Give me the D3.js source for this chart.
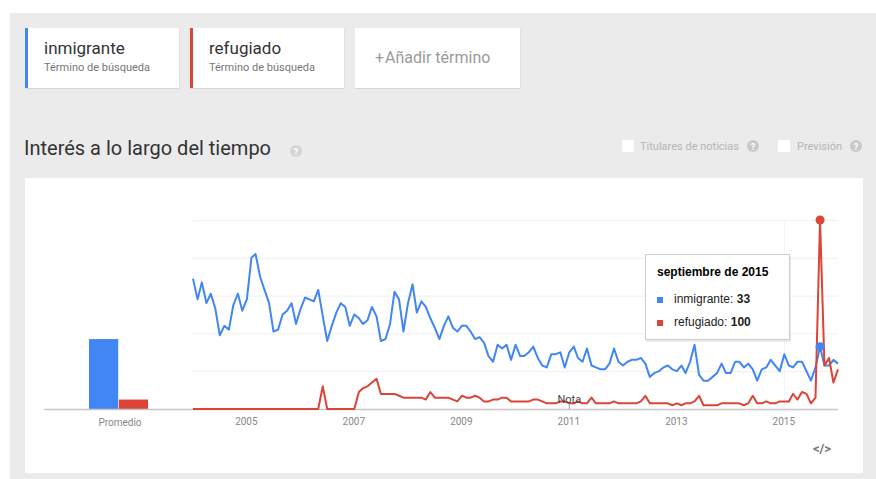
<!DOCTYPE html>
<html>
<head>
<meta charset="utf-8">
<script src="https://cdn.jsdelivr.net/npm/d3@7"></script>
<style>
  body { margin: 0; background: #fff; }
  svg { display: block; font-family: Roboto, "Open Sans", Arial, sans-serif; }
</style>
</head>
<body>
<svg id="chart" width="876" height="479"></svg>
<script>
// Search terms and their colours
const terms = ["inmigrante", "refugiado"];
const termColors = ["#4285f4", "#db4437"];
const termSubtitle = "Término de búsqueda";

// Monthly interest, Jan 2004 .. Jan 2016 (0-100)
const inmigrante = [
  69, 58, 67, 56, 61, 53, 39, 44, 42, 55, 61, 52,
  58, 80, 82, 70, 63, 56, 41, 42, 50, 52, 56, 45,
  53, 59, 58, 57, 63, 49, 36, 44, 51, 56, 54, 44,
  50, 48, 45, 47, 54, 49, 36, 37, 45, 62, 58, 41,
  56, 66, 51, 57, 54, 48, 43, 37, 44, 49, 43, 41,
  44, 44, 41, 37, 38, 35, 28, 25, 34, 32, 34, 26,
  34, 28, 28, 30, 33, 27, 23, 22, 29, 29, 30, 22,
  30, 33, 27, 25, 32, 23, 22, 21, 21, 24, 32, 25,
  23, 25, 26, 26, 27, 24, 17, 19, 20, 22, 23, 21,
  20, 23, 19, 25, 34, 18, 15, 15, 17, 19, 24, 19,
  19, 25, 25, 22, 24, 21, 15, 21, 22, 26, 23, 20,
  29, 23, 22, 25, 25, 20, 15, 22, 33, 23, 23, 26,
  24
];
const refugiado = [
  0, 0, 0, 0, 0, 0, 0, 0, 0, 0, 0, 0,
  0, 0, 0, 0, 0, 0, 0, 0, 0, 0, 0, 0,
  0, 0, 0, 0, 0, 12, 0, 0, 0, 0, 0, 0,
  0, 9, 11, 12, 14, 16, 8, 8, 8, 8, 7, 6,
  6, 6, 6, 6, 5, 9, 6, 6, 6, 6, 5, 4,
  7, 6, 6, 7, 6, 4, 4, 5, 5, 6, 6, 4,
  4, 4, 4, 4, 5, 5, 4, 3, 3, 3, 4, 4,
  3, 3, 4, 3, 3, 6, 3, 3, 3, 3, 4, 3,
  3, 3, 3, 3, 4, 7, 3, 3, 3, 3, 3, 2,
  3, 2, 3, 3, 4, 7, 2, 2, 2, 2, 3, 3,
  3, 3, 3, 2, 3, 7, 3, 3, 4, 3, 3, 4,
  4, 4, 8, 5, 9, 8, 3, 6, 100, 23, 27, 14,
  21
];
const averages = [37, 5];
const averageLabel = "Promedio";

const yearTicks = [2005, 2007, 2009, 2011, 2013, 2015];
const gridValues = [20, 40, 60, 80, 100];

const hoverIndex = 140;
const hoverTitle = "septiembre de 2015";
const noteLabel = "Nota";
const noteYear = 2011;

const svg = d3.select("#chart");

// ---- page background
svg.append("rect").attr("x", 10).attr("y", 13).attr("width", 866).attr("height", 466).attr("fill", "#ebebeb");

// ---- term cards
const cards = [
  { x: 25, w: 154, title: terms[0], color: termColors[0] },
  { x: 190, w: 154, title: terms[1], color: termColors[1] },
  { x: 355, w: 165, title: null }
];
cards.forEach(c => {
  const g = svg.append("g").attr("transform", `translate(${c.x},28)`);
  g.append("rect").attr("x", 0.5).attr("y", 1).attr("width", c.w).attr("height", 60).attr("fill", "#d6d6d6");
  g.append("rect").attr("width", c.w).attr("height", 60).attr("fill", "#fff");
  if (c.title) {
    g.append("rect").attr("width", 3).attr("height", 60).attr("fill", c.color);
    g.append("text").attr("x", 19).attr("y", 26).attr("font-size", 17).attr("fill", "#333").text(c.title);
    g.append("text").attr("x", 19).attr("y", 43).attr("font-size", 11).attr("fill", "#777").text(termSubtitle);
  } else {
    const t = g.append("text").attr("x", 20).attr("y", 35).attr("font-size", 16).attr("fill", "#9a9a9a");
    t.append("tspan").text("+");
    t.append("tspan").attr("dx", 1).text("Añadir término");
  }
});

// ---- section header
svg.append("text").attr("x", 24).attr("y", 155).attr("font-size", 20).attr("fill", "#333")
  .text("Interés a lo largo del tiempo");

function helpIcon(cx, cy, r, fill) {
  svg.append("circle").attr("cx", cx).attr("cy", cy).attr("r", r).attr("fill", fill);
  svg.append("text").attr("x", cx).attr("y", cy + 3.5).attr("text-anchor", "middle")
    .attr("font-size", 9).attr("fill", "#fff").attr("font-weight", "bold").text("?");
}
helpIcon(296, 151, 6, "#d4d4d4");

svg.append("rect").attr("x", 622).attr("y", 140).attr("width", 12).attr("height", 12).attr("fill", "#fff");
svg.append("text").attr("x", 640).attr("y", 150).attr("font-size", 11).attr("fill", "#b5b5b5").text("Titulares de noticias");
helpIcon(753, 146, 6, "#c9c9c9");
svg.append("rect").attr("x", 778).attr("y", 140).attr("width", 12).attr("height", 12).attr("fill", "#fff");
svg.append("text").attr("x", 797).attr("y", 150).attr("font-size", 11).attr("fill", "#b5b5b5").text("Previsión");
helpIcon(856, 146, 6, "#c9c9c9");

// ---- chart panel
svg.append("rect").attr("x", 25).attr("y", 178).attr("width", 838).attr("height", 295).attr("fill", "#fff");

// scales
const months = inmigrante.map((_, i) => d3.timeMonth.offset(new Date(2004, 0, 1), i));
const x = d3.scaleTime().domain([months[0], months[months.length - 1]]).range([193, 838]);
const y = d3.scaleLinear().domain([0, 100]).range([409, 220]);
const xBar = d3.scaleBand().domain(terms).range([89, 148]).paddingInner(0.02);

// horizontal grid
svg.append("g").selectAll("line").data(gridValues).join("line")
  .attr("x1", x.range()[0]).attr("x2", x.range()[1])
  .attr("y1", d => y(d) + 0.5).attr("y2", d => y(d) + 0.5)
  .attr("stroke", "#efefef").attr("stroke-width", 1);

// faint vertical marker for the latest year
const lastYearX = Math.round(x(new Date(2015, 0, 1))) + 0.5;
svg.append("line").attr("x1", lastYearX).attr("x2", lastYearX)
  .attr("y1", y(100)).attr("y2", y(0)).attr("stroke", "#f4f4f4");

// average bars
svg.append("g").selectAll("rect").data(terms).join("rect")
  .attr("x", d => xBar(d)).attr("width", xBar.bandwidth())
  .attr("y", (d, i) => y(averages[i])).attr("height", (d, i) => y(0) - y(averages[i]))
  .attr("fill", (d, i) => termColors[i]);

// baseline
svg.append("line").attr("x1", 44).attr("x2", 838).attr("y1", y(0) + 0.5).attr("y2", y(0) + 0.5)
  .attr("stroke", "#c8c8c8").attr("stroke-width", 1.5);

// x axis labels
const xAxis = d3.axisBottom(x)
  .tickValues(yearTicks.map(yr => new Date(yr, 0, 1)))
  .tickFormat(d3.timeFormat("%Y")).tickSize(0).tickPadding(9);
const axG = svg.append("g").attr("transform", `translate(-1,${y(0)})`).call(xAxis);
axG.select(".domain").remove();
axG.selectAll("text").attr("font-size", 10).attr("fill", "#888").attr("font-family", "Roboto, Arial, sans-serif");

svg.append("text").attr("x", 120).attr("y", y(0) + 17).attr("text-anchor", "middle")
  .attr("font-size", 10).attr("fill", "#888").text(averageLabel);

// series lines
const line = d3.line().x((d, i) => x(months[i])).y(d => y(d));
[inmigrante, refugiado].forEach((series, k) => {
  svg.append("path").datum(series).attr("d", line).attr("fill", "none")
    .attr("stroke", termColors[k]).attr("stroke-width", 2).attr("stroke-linejoin", "round");
});

// annotation
const nx = x(new Date(noteYear, 0, 1));
svg.append("line").attr("x1", nx).attr("x2", nx).attr("y1", y(0) - 5).attr("y2", y(0)).attr("stroke", "#999");
svg.append("text").attr("x", nx).attr("y", y(0) - 6).attr("text-anchor", "middle")
  .attr("font-size", 11).attr("fill", "#444").text(noteLabel);

// hovered point markers
[inmigrante, refugiado].forEach((series, k) => {
  svg.append("circle").attr("cx", x(months[hoverIndex])).attr("cy", y(series[hoverIndex]))
    .attr("r", 4.5).attr("fill", termColors[k]);
});

// tooltip
const tip = svg.append("g").attr("transform", "translate(645,254)");
tip.append("rect").attr("x", 1).attr("y", 2).attr("width", 145).attr("height", 86).attr("fill", "#000").attr("opacity", 0.08);
tip.append("rect").attr("x", 0.5).attr("y", 0.5).attr("width", 144).attr("height", 85)
  .attr("fill", "#fff").attr("stroke", "#cccccc");
tip.append("text").attr("x", 12).attr("y", 22).attr("font-size", 12).attr("font-weight", "bold")
  .attr("fill", "#000").attr("font-family", "Arial, 'Liberation Sans', sans-serif").text(hoverTitle);
[inmigrante, refugiado].forEach((series, k) => {
  const ry = 43 + k * 23;
  tip.append("rect").attr("x", 12).attr("y", ry).attr("width", 6).attr("height", 6).attr("fill", termColors[k]);
  const t = tip.append("text").attr("x", 29).attr("y", ry + 6).attr("font-size", 12)
    .attr("fill", "#222").attr("font-family", "Arial, 'Liberation Sans', sans-serif");
  t.append("tspan").text(terms[k] + ": ");
  t.append("tspan").attr("font-weight", "bold").text(series[hoverIndex]);
});

// embed icon
svg.append("text").attr("x", 822).attr("y", 453).attr("text-anchor", "middle")
  .attr("font-size", 13).attr("font-weight", "bold").attr("fill", "#777").text("</>");
</script>
</body>
</html>
